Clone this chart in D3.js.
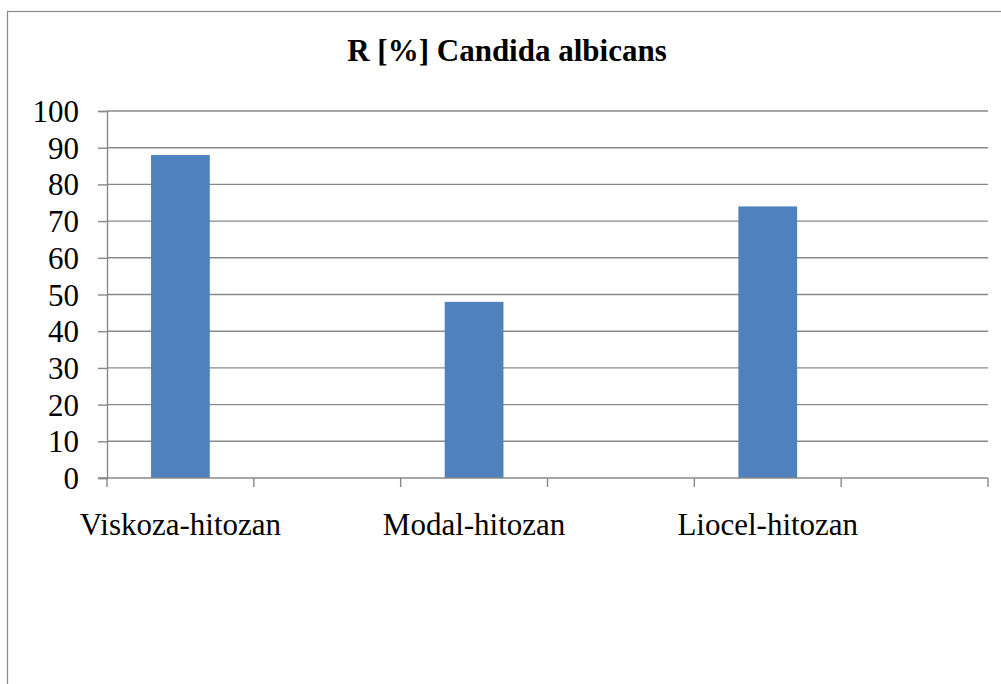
<!DOCTYPE html>
<html>
<head>
<meta charset="utf-8">
<script src="https://cdn.jsdelivr.net/npm/d3@7/dist/d3.min.js"></script>
<style>
  html, body { margin: 0; padding: 0; background: #fff; }
  svg { display: block; }
</style>
</head>
<body>
<svg id="chart" width="1001" height="684" font-family="Liberation Serif"></svg>
<script>
// Antimicrobial reduction against Candida albicans, per fibre type
const categories = ["Viskoza-hitozan", "", "Modal-hitozan", "", "Liocel-hitozan", ""];
const values = [88, null, 48, null, 74, null];
const yTicks = [0, 10, 20, 30, 40, 50, 60, 70, 80, 90, 100];
const title = "R [%] Candida albicans";

const FONT = "Liberation Serif";
const FS = 31;
const svg = d3.select("#chart");
const W = 1001, H = 684;
const plot = { left: 107, right: 988, top: 111, bottom: 478 };
const gridColor = "#898989";

// Chart area frame
svg.append("rect")
  .attr("x", 7.5).attr("y", 11.5)
  .attr("width", W + 20).attr("height", H + 20)
  .attr("fill", "#fff").attr("stroke", gridColor).attr("stroke-width", 1.2);

const x = d3.scaleBand()
  .domain(d3.range(categories.length))
  .range([plot.left, plot.right])
  .paddingInner(0).paddingOuter(0);

const y = d3.scaleLinear().domain([0, 100]).range([plot.bottom, plot.top]);

// Horizontal gridlines
svg.append("g")
  .selectAll("line")
  .data(yTicks.filter(t => t > 0))
  .join("line")
  .attr("x1", plot.left).attr("x2", plot.right)
  .attr("y1", d => y(d)).attr("y2", d => y(d))
  .attr("stroke", gridColor).attr("stroke-width", 1.4);

// Bars: width = band / (1 + 1.5 gap)
const barW = x.bandwidth() / 2.5;
svg.append("g")
  .selectAll("rect")
  .data(values.map((v, i) => ({ v, i })).filter(d => d.v != null))
  .join("rect")
  .attr("x", d => x(d.i) + (x.bandwidth() - barW) / 2)
  .attr("y", d => y(d.v))
  .attr("width", barW)
  .attr("height", d => y(0) - y(d.v))
  .attr("fill", "#4f81bd");

// Y axis
const yAxis = svg.append("g")
  .attr("transform", `translate(${plot.left},0)`)
  .call(d3.axisLeft(y).tickValues(yTicks).tickSize(9).tickPadding(19).tickFormat(d3.format("d")));
yAxis.attr("font-family", FONT).attr("font-size", FS);
yAxis.select(".domain").attr("stroke", gridColor).attr("stroke-width", 1.4);
yAxis.selectAll(".tick line").attr("stroke", gridColor).attr("stroke-width", 1.4);
yAxis.selectAll(".tick text")
  .attr("font-family", FONT).attr("font-size", FS)
  .attr("fill", "#000").attr("dy", "0.34em");

// X axis with tick marks at band boundaries
const xg = svg.append("g").attr("transform", `translate(0,${plot.bottom})`);
xg.append("line")
  .attr("x1", plot.left - 9).attr("x2", plot.right)
  .attr("stroke", gridColor).attr("stroke-width", 1.4);
const boundaries = d3.range(categories.length + 1).map(i => plot.left + i * x.bandwidth());
xg.selectAll("line.tick")
  .data(boundaries)
  .join("line")
  .attr("class", "tick")
  .attr("x1", d => d).attr("x2", d => d)
  .attr("y1", 0).attr("y2", 9)
  .attr("stroke", gridColor).attr("stroke-width", 1.4);
xg.selectAll("text")
  .data(categories.map((c, i) => ({ c, i })).filter(d => d.c))
  .join("text")
  .attr("x", d => x(d.i) + x.bandwidth() / 2)
  .attr("y", 57)
  .attr("text-anchor", "middle")
  .attr("font-family", FONT).attr("font-size", FS).attr("fill", "#000")
  .text(d => d.c);

// Title
svg.append("text")
  .attr("x", 507).attr("y", 61)
  .attr("text-anchor", "middle")
  .attr("font-family", FONT).attr("font-size", FS).attr("font-weight", "bold").attr("fill", "#000")
  .text(title);
</script>
</body>
</html>
